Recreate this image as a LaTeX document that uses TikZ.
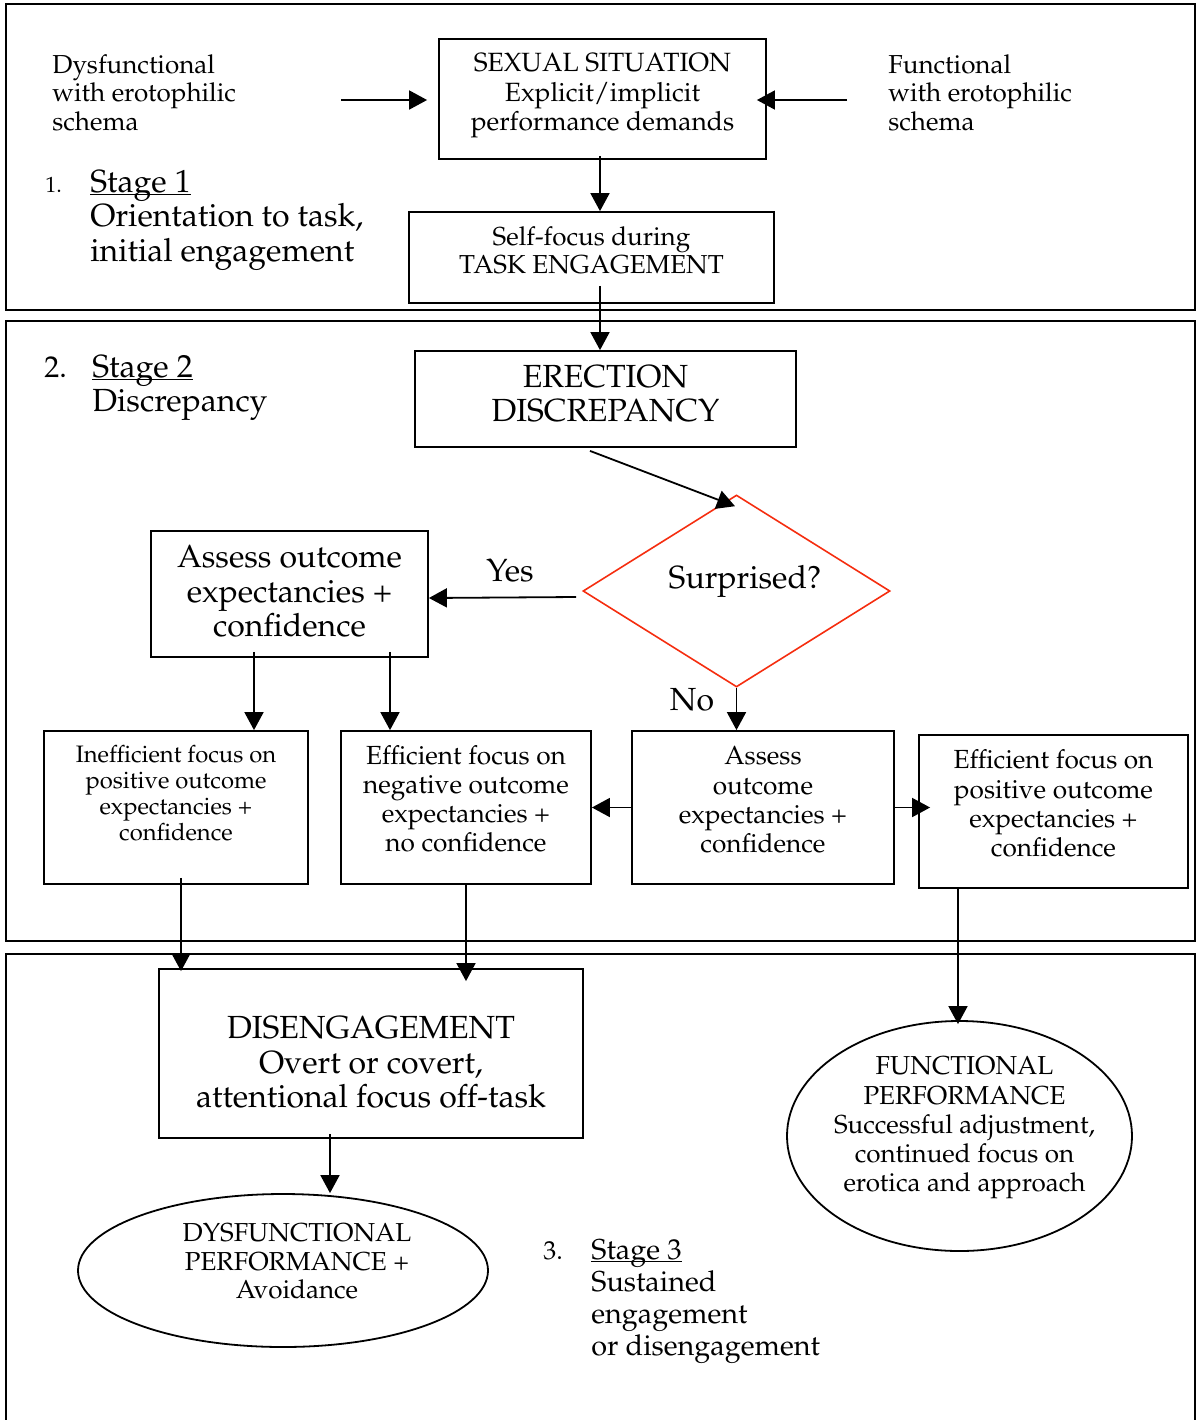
\documentclass[tikz,border=0pt]{standalone}
\usepackage[T1]{fontenc}
\renewcommand{\rmdefault}{ppl}
\usetikzlibrary{arrows.meta,shapes.geometric}
\definecolor{surpred}{RGB}{245,45,15}
\newcommand\fsz[2]{\fontsize{#1}{#2}\selectfont}
\newcommand\mytab[3]{\begin{tabular}{@{}c@{}}\noalign{\vskip#1}#3\\\noalign{\vskip#2}\end{tabular}}
\newcommand\stul[1]{\setbox0\hbox{#1}\rlap{\rule[-1.6pt]{\wd0}{0.8pt}}\box0}
\begin{document}
\begin{tikzpicture}[x=0.5pt,y=-0.5pt,
  box/.style={draw,line width=0.9pt,inner sep=0pt,rectangle},
  arr/.style={line width=0.9pt,-{Triangle[length=9pt,width=9.5pt]}},
  frame/.style={line width=1pt},
  lab/.style={inner sep=0pt,anchor=base west}]
\useasboundingbox (0,0) rectangle (1196,1420);
% stage frames
\draw[frame] (6,4) rectangle (1195,310);
\draw[frame] (6,321) rectangle (1195,941);
\draw[frame] (6,1420) -- (6,954) -- (1195,954) -- (1195,1420);

% stage 1
\node[lab,font=\fsz{13}{14.35}] (dyslab) at (52,73) {\begin{tabular}[t]{@{}l@{}}Dysfunctional\\with erotophilic\\schema\end{tabular}};
\node[lab,font=\fsz{13}{14.35}] (funlab) at (888,73) {\begin{tabular}[t]{@{}l@{}}Functional\\with erotophilic\\schema\end{tabular}};
\node[box,minimum width=163.5pt,minimum height=60pt,font=\fsz{13.2}{14.75}] (sex) at (602.5,99) {\mytab{0pt}{3.5pt}{SEXUAL SITUATION\\Explicit/implicit\\performance demands}};
\node[box,minimum width=182.5pt,minimum height=45.5pt,font=\fsz{13}{14}] (self) at (591.5,257.5) {\mytab{0pt}{3.5pt}{Self-focus during\\TASK ENGAGEMENT}};
\node[lab,font=\fsz{11}{13}] (s1n) at (45,192) {1.};
\node[lab,font=\fsz{16}{17.25}] (s1) at (90,192) {\begin{tabular}[t]{@{}l@{}}\stul{Stage 1}\\Orientation to task,\\initial engagement\end{tabular}};

% stage 2
\node[lab,font=\fsz{15}{17}] (s2n) at (44,377) {2.};
\node[lab,font=\fsz{16}{17.25}] (s2) at (92,377) {\begin{tabular}[t]{@{}l@{}}\stul{Stage 2}\\Discrepancy\end{tabular}};
\node[box,minimum width=190.5pt,minimum height=48pt,font=\fsz{16}{17}] (erect) at (605.5,399) {\mytab{0pt}{1pt}{ERECTION\\DISCREPANCY}};
\node[diamond,aspect=1.6,draw=surpred,line width=0.8pt,minimum width=153.5pt,minimum height=96pt,inner sep=0pt,font=\fsz{16}{17}] (surp) at (736.5,591) {\hspace*{8.5pt}\mytab{0pt}{9pt}{Surprised?}};
\node[box,minimum width=138.5pt,minimum height=63pt,font=\fsz{16}{17.25}] (assess1) at (289.5,594) {\mytab{1.5pt}{0pt}{Assess outcome\\expectancies +\\confidence}};
\node[inner sep=0pt,font=\fsz{16}{17}] (yes) at (510,571) {Yes};
\node[inner sep=0pt,font=\fsz{16}{17}] (no) at (692,700) {No};
\node[box,minimum width=132pt,minimum height=76.5pt,font=\fsz{11.9}{13}] (boxA) at (176,807.5) {\mytab{0pt}{11pt}{Inefficient focus on\\positive outcome\\expectancies +\\confidence}};
\node[box,minimum width=125pt,minimum height=76.5pt,font=\fsz{13.1}{14.5}] (boxB) at (466,807.5) {\mytab{0pt}{5.5pt}{Efficient focus on\\negative outcome\\expectancies +\\no confidence}};
\node[box,minimum width=131pt,minimum height=76.5pt,font=\fsz{13.1}{14.65}] (boxC) at (763,807.5) {\mytab{0pt}{4.5pt}{Assess\\outcome\\expectancies +\\confidence}};
\node[box,minimum width=134.5pt,minimum height=76.5pt,font=\fsz{13.1}{14.65}] (boxD) at (1053.5,811.5) {\mytab{0pt}{4.5pt}{Efficient focus on\\positive outcome\\expectancies +\\confidence}};

% stage 3
\node[box,minimum width=212pt,minimum height=84.5pt,font=\fsz{16}{17.25}] (diseng) at (371,1053.5) {\mytab{13pt}{0pt}{DISENGAGEMENT\\Overt or covert,\\attentional focus off-task}};
\node[ellipse,draw,line width=0.9pt,inner sep=-15pt,minimum width=205pt,minimum height=76.5pt,font=\fsz{13}{14.25}] (dysf) at (283,1270.5) {\hspace*{14pt}\mytab{0pt}{6pt}{DYSFUNCTIONAL\\PERFORMANCE +\\Avoidance}};
\node[ellipse,draw,line width=0.9pt,inner sep=-15pt,minimum width=172.5pt,minimum height=115pt,font=\fsz{13}{14.6}] (func) at (959.5,1136) {\hspace*{5pt}\mytab{0pt}{8.5pt}{FUNCTIONAL\\PERFORMANCE\\Successful adjustment,\\continued focus on\\erotica and approach}};
\node[lab,font=\fsz{13}{16}] (s3n) at (543,1259) {3.};
\node[lab,font=\fsz{14.4}{16}] (s3) at (591,1259) {\begin{tabular}[t]{@{}l@{}}\stul{Stage 3}\\Sustained\\engagement\\or disengagement\end{tabular}};

% connectors
\coordinate (dysA) at (341,100);
\coordinate (funA) at (847,100);
\draw[arr,shorten >=5.5pt] (dysA) -- (sex.west |- dysA);
\draw[arr,shorten >=-5pt] (funA) -- (sex.east |- funA);
\draw[arr,shorten <=-2pt] ([xshift=-1.25pt]sex.south) -- ([xshift=4.25pt]self.north);
\draw[arr,shorten <=-9pt] ([xshift=4.25pt]self.south) -- ([xshift=-2.75pt]erect.north);
\draw[arr] ([xshift=-7.75pt,yshift=-1.5pt]erect.south) -- ([xshift=-0.75pt,yshift=-6pt]surp.north);
\draw[arr] ([xshift=-3pt,yshift=-3pt]surp.west) -- ([yshift=-2pt]assess1.east);
\draw[arr] (surp.south) -- (surp.south |- boxC.north);
\draw[arr,shorten <=-3pt] ([xshift=-17.75pt]assess1.south) -- ([xshift=-17.75pt]assess1.south |- boxA.north);
\draw[arr,shorten <=-3pt] ([xshift=50.25pt]assess1.south) -- ([xshift=50.25pt]assess1.south |- boxB.north);
\draw[arr] (boxC.west) -- (boxB.east);
\draw[arr,shorten >=-6pt] (boxC.east) -- (boxC.east -| boxD.west);
\draw[arr,shorten <=-3.5pt,shorten >=-1.5pt] ([xshift=2.5pt]boxA.south) -- ([xshift=2.5pt]boxA.south |- diseng.north);
\draw[arr,shorten >=-6.5pt] (boxB.south) -- (boxB.south |- diseng.north);
\draw[arr,shorten >=-2pt] ([xshift=-47.75pt]boxD.south) -- ([xshift=-47.75pt]boxD.south |- func.north);
\draw[arr,shorten <=-2.5pt] ([xshift=-20.5pt]diseng.south) -- ([xshift=-20.5pt]diseng.south |- dysf.north);
\end{tikzpicture}
\end{document}
